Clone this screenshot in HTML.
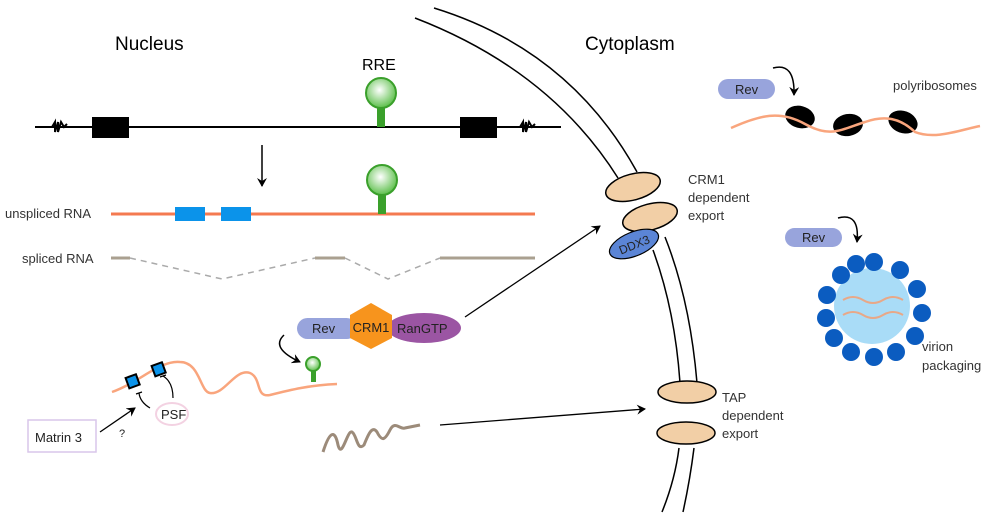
<!DOCTYPE html>
<html><head><meta charset="utf-8"><style>
body{margin:0;background:#fff}
svg{display:block;font-family:"Liberation Sans",sans-serif}
</style></head><body>
<svg width="1000" height="518" viewBox="0 0 1000 518" xmlns="http://www.w3.org/2000/svg">
<defs>
<radialGradient id="g" cx="0.45" cy="0.4" r="0.6"><stop offset="0" stop-color="#fff"/><stop offset="1" stop-color="#5cbf4a"/></radialGradient>
<marker id="a" markerWidth="10" markerHeight="10" refX="8" refY="5" orient="auto" markerUnits="userSpaceOnUse"><path d="M0,0 L9,5 L0,10 L3,5 z" fill="#000"/></marker>
</defs>
<!-- membrane -->
<g fill="none" stroke="#000" stroke-width="1.5">
<path d="M434,8 Q570,50 637,172"/>
<path d="M415,18 Q550,70 618,178"/>
<path d="M665,237 Q690,300 697,383"/>
<path d="M653,250 Q675,310 680,383"/>
<path d="M694,448 Q690,480 683,512"/>
<path d="M679,448 Q675,480 662,512"/>
</g>
<g fill="#f2cfa6" stroke="#000" stroke-width="1.5">
<ellipse cx="633" cy="187" rx="28" ry="13" transform="rotate(-15 633 187)"/>
<ellipse cx="650" cy="217" rx="28" ry="13" transform="rotate(-15 650 217)"/>
<ellipse cx="687" cy="392" rx="29" ry="11"/>
<ellipse cx="686" cy="433" rx="29" ry="11"/>
</g>
<ellipse cx="634" cy="244" rx="26" ry="12" transform="rotate(-22 634 244)" fill="#5b85d6" stroke="#000" stroke-width="1.2"/>
<text x="634" y="249" font-size="12" text-anchor="middle" fill="#222" transform="rotate(-22 634 244)">DDX3</text>
<!-- labels -->
<text x="115" y="50" font-size="19">Nucleus</text>
<text x="585" y="50" font-size="19">Cytoplasm</text>
<text x="362" y="70" font-size="16">RRE</text>
<!-- gene -->
<line x1="35" y1="127" x2="561" y2="127" stroke="#000" stroke-width="2"/>
<path d="M52,127 l3,-5 l0,10 l3,-10 l0,10 l3,-10 l3,5 l3,-3" fill="none" stroke="#000" stroke-width="2"/>
<path d="M520,127 l3,-5 l0,10 l3,-10 l0,10 l3,-10 l3,5 l3,-3" fill="none" stroke="#000" stroke-width="2"/>
<rect x="92" y="117" width="37" height="21" fill="#000"/>
<rect x="460" y="117" width="37" height="21" fill="#000"/>
<rect x="377" y="103" width="8" height="24" fill="#3aa02b"/>
<circle cx="381" cy="93" r="15" fill="url(#g)" stroke="#3aa02b" stroke-width="2"/>
<line x1="262" y1="145" x2="262" y2="186" stroke="#000" stroke-width="1.5" marker-end="url(#a)"/>
<!-- unspliced -->
<text x="5" y="218" font-size="13" fill="#333">unspliced RNA</text>
<line x1="111" y1="214" x2="535" y2="214" stroke="#f47a50" stroke-width="3"/>
<rect x="175" y="207" width="30" height="14" fill="#0b93ea"/>
<rect x="221" y="207" width="30" height="14" fill="#0b93ea"/>
<rect x="378" y="189" width="8" height="25" fill="#3aa02b"/>
<circle cx="382" cy="180" r="15" fill="url(#g)" stroke="#3aa02b" stroke-width="2"/>
<!-- spliced -->
<text x="22" y="263" font-size="13" fill="#333">spliced RNA</text>
<g stroke="#aaa090" stroke-width="3" fill="none">
<line x1="111" y1="258" x2="130" y2="258"/>
<line x1="315" y1="258" x2="345" y2="258"/>
<line x1="440" y1="258" x2="535" y2="258"/>
</g>
<path d="M130,258 L222,279 L315,258 M345,258 L388,279 L440,258" fill="none" stroke="#aaa" stroke-width="1.5" stroke-dasharray="6,5"/>
<!-- complex -->
<rect x="297" y="318" width="60" height="21" rx="10.5" fill="#98a4dc"/>
<text x="312" y="333" font-size="13" fill="#222">Rev</text>
<ellipse cx="424" cy="328" rx="37" ry="15" fill="#9b55a3"/>
<text x="397" y="333" font-size="13" fill="#222">RanGTP</text>
<polygon points="371,303 392,315 392,338 371,349 350,338 350,315" fill="#f7941d"/>
<text x="371" y="332" font-size="13" text-anchor="middle" fill="#222">CRM1</text>
<line x1="465" y1="317" x2="600" y2="226" stroke="#000" stroke-width="1.3" marker-end="url(#a)"/>
<!-- rna with PSF -->
<path d="M112,392 C140,382 160,360 180,362 C200,362 200,392 210,393 C225,395 235,368 250,373 C262,378 255,398 270,395 C290,390 310,385 337,384" fill="none" stroke="#f9a57d" stroke-width="2.5"/>
<rect x="127" y="376" width="11" height="11" fill="#0b93ea" stroke="#000" stroke-width="2" transform="rotate(-20 132 381)"/>
<rect x="153" y="364" width="11" height="11" fill="#0b93ea" stroke="#000" stroke-width="2" transform="rotate(-20 158 369)"/>
<path d="M136,394 L142,392 M139,393 Q140,402 150,408" fill="none" stroke="#000" stroke-width="1.2"/>
<path d="M160,377 L166,375 M163,376 Q173,382 173,398" fill="none" stroke="#000" stroke-width="1.2"/>
<ellipse cx="172" cy="414" rx="16" ry="11" fill="#fff" stroke="#f3d2e2" stroke-width="2"/>
<text x="161" y="419" font-size="13" fill="#222">PSF</text>
<rect x="28" y="420" width="68" height="32" fill="#fff" stroke="#d9c6ea" stroke-width="1.5"/>
<text x="35" y="442" font-size="13" fill="#222">Matrin 3</text>
<line x1="100" y1="432" x2="135" y2="408" stroke="#000" stroke-width="1.3" marker-end="url(#a)"/>
<text x="119" y="437" font-size="11" fill="#222">?</text>
<rect x="311" y="370" width="5" height="12" fill="#3aa02b"/>
<circle cx="313" cy="364" r="7" fill="url(#g)" stroke="#3aa02b" stroke-width="2"/>
<path d="M284,335 Q270,348 300,362" fill="none" stroke="#000" stroke-width="1.5" marker-end="url(#a)"/>
<!-- squiggle -->
<path d="M323,452 C330,430 335,430 338,445 C342,460 347,430 352,432 C357,435 357,452 364,445 C368,435 372,425 377,432 C382,442 385,440 390,430 C395,420 400,430 405,428 L420,425" fill="none" stroke="#9c8b7a" stroke-width="3"/>
<line x1="440" y1="425" x2="645" y2="409" stroke="#000" stroke-width="1.3" marker-end="url(#a)"/>
<!-- text right -->
<g font-size="13" fill="#333">
<text x="688" y="184">CRM1</text><text x="688" y="202">dependent</text><text x="688" y="220">export</text>
<text x="722" y="402">TAP</text><text x="722" y="420">dependent</text><text x="722" y="438">export</text>
<text x="893" y="90">polyribosomes</text>
<text x="922" y="351">virion</text><text x="922" y="370">packaging</text>
</g>
<!-- polyribosomes -->
<rect x="718" y="79" width="57" height="20" rx="10" fill="#98a4dc"/>
<text x="735" y="94" font-size="13" fill="#222">Rev</text>
<path d="M773,68 Q795,62 794,95" fill="none" stroke="#000" stroke-width="1.5" marker-end="url(#a)"/>
<ellipse cx="800" cy="117" rx="15" ry="11" fill="#000" transform="rotate(15 800 117)"/>
<ellipse cx="848" cy="125" rx="15" ry="11" fill="#000" transform="rotate(-10 848 125)"/>
<ellipse cx="903" cy="122" rx="15" ry="11" fill="#000" transform="rotate(20 903 122)"/>
<path d="M731,128 C760,115 780,110 805,124 C830,138 840,130 865,122 C885,115 900,118 915,132 C935,140 960,130 980,126" fill="none" stroke="#f9a57d" stroke-width="2.5"/>
<!-- virion -->
<rect x="785" y="228" width="57" height="19" rx="9.5" fill="#98a4dc"/>
<text x="802" y="242" font-size="13" fill="#222">Rev</text>
<path d="M838,218 Q860,212 857,242" fill="none" stroke="#000" stroke-width="1.5" marker-end="url(#a)"/>
<circle cx="872" cy="306" r="38" fill="#a9dcf7"/>
<g fill="#0b5cc0">
<circle cx="874" cy="262" r="9"/><circle cx="900" cy="270" r="9"/><circle cx="917" cy="289" r="9"/><circle cx="922" cy="313" r="9"/>
<circle cx="915" cy="336" r="9"/><circle cx="896" cy="352" r="9"/><circle cx="874" cy="357" r="9"/><circle cx="851" cy="352" r="9"/>
<circle cx="834" cy="338" r="9"/><circle cx="826" cy="318" r="9"/><circle cx="827" cy="295" r="9"/><circle cx="841" cy="275" r="9"/><circle cx="856" cy="264" r="9"/>
</g>
<path d="M843,300 q10,-6 20,0 t20,0 t20,0 M843,315 q10,-6 20,0 t20,0 t20,0" fill="none" stroke="#e8a888" stroke-width="2"/>
</svg>
</body></html>
